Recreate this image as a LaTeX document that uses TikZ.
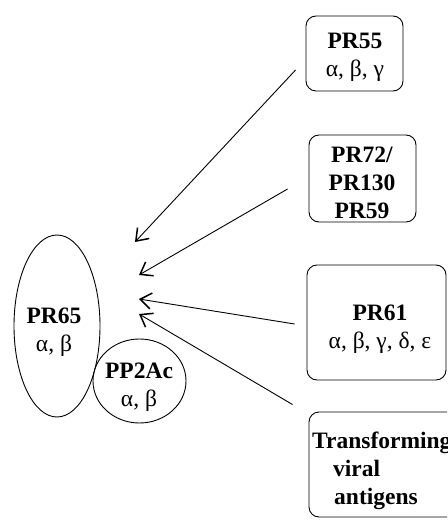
\documentclass[tikz,border=0pt]{standalone}
\usepackage{fontspec}
\setmainfont{Liberation Serif}
\usetikzlibrary{shapes.geometric,arrows.meta}

\tikzset{
  subunit/.style={shape=rectangle, draw, line width=0.9pt, rounded corners=10pt, inner sep=0},
  core/.style={shape=ellipse, draw, line width=0.9pt, inner sep=0},
  caption/.style={anchor=center, align=center, inner sep=0, font=\fontsize{23.5}{28}\selectfont},
  binds/.style={line width=0.9pt, -{Straight Barb[length=11pt,width=16pt,line width=1.5pt]}}
}

\begin{document}
\begin{tikzpicture}[x=1pt, y=-1pt]
          \useasboundingbox (0,0) rectangle (447,521);
          \clip (0,0) rectangle (447,521);
          % Core enzyme:
          \node[core, minimum width=86pt, minimum height=182pt] (pr65) at (57, 326){} node[caption] (pr65text) at (54, 332){\textbf{PR65}\\α, β};
          \node[core, minimum width=93pt, minimum height=84pt] (pp2ac) at (139.5, 381){} node[caption] (pp2actext) at (139, 387){\textbf{PP2Ac}\\α, β};
          % Regulatory subunits:
          \node[subunit, minimum width=97pt, minimum height=75pt] (pr55) at (354.5, 53.5){} node[caption] (pr55text) at (355, 57){\textbf{PR55}\\α, β, γ};
          \node[subunit, minimum width=107pt, minimum height=87pt] (pr72) at (362.5, 178.5){} node[caption] (pr72text) at (362, 183){\textbf{PR72/}\\\textbf{PR130}\\\textbf{PR59}};
          \node[subunit, minimum width=139pt, minimum height=115pt] (pr61) at (376.5, 322.5){} node[caption] (pr61text) at (380, 329){\textbf{PR61}\\α, β, γ, δ, ε};
          \node[subunit, minimum width=161pt, minimum height=105pt] (viral) at (389.5, 464.5){} node[caption, anchor=north west, align=left] (viraltext) at (312, 432){\textbf{Transforming}\\\hspace{21pt}\textbf{viral}\\\hspace{22pt}\textbf{antigens}};
          % Binding sites:
          \coordinate (site55) at (135, 242);
          \coordinate (site72) at (139, 275);
          \coordinate (site61) at (139, 299);
          \coordinate (siteviral) at (139, 314);
          \draw[binds] ([shift={(-10, 16.5)}]pr55.west) -- (site55);
          \draw[binds] ([shift={(-21, 10.5)}]pr72.west) -- (site72);
          \draw[binds] ([shift={(-12, 1.5)}]pr61.west) -- (site61);
          \draw[binds] ([shift={(-16, -7)}]viral.north west) -- (siteviral);
        \end{tikzpicture}
\end{document}
